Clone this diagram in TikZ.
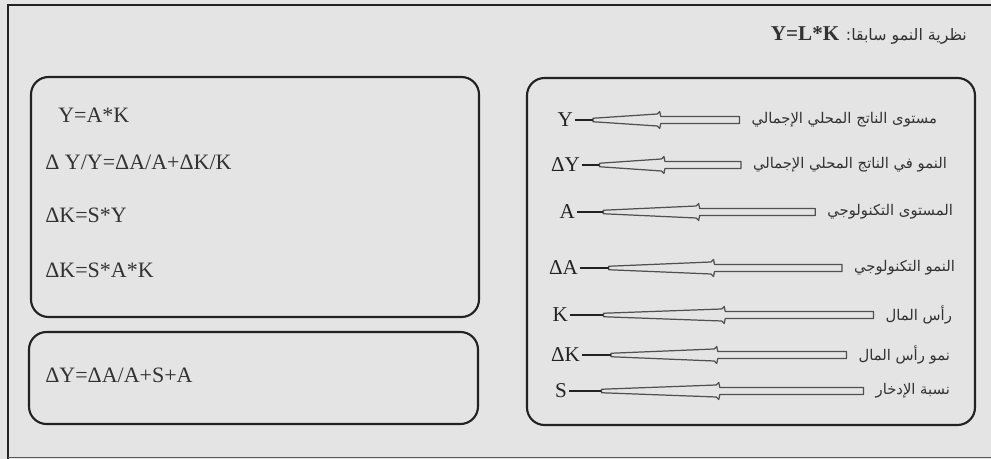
\documentclass[tikz,border=0pt]{standalone}
\usepackage{fontspec}
\setmainfont{Liberation Serif}
\newfontfamily\arabicfont[Script=Arabic]{DejaVu Sans}
\TeXXeTstate=1
\usetikzlibrary{calc,positioning}
\definecolor{paper}{RGB}{228,228,228}
\definecolor{frameink}{RGB}{34,34,34}
\definecolor{textgray}{RGB}{50,50,50}
\definecolor{shaftgray}{RGB}{80,80,80}

% tapered pointer from a description (#1) back to its symbol (#2)
\newcommand{\taperarrow}[2]{%
  \coordinate (e) at ($(#1.west)+(-0.2,0)$);
  \coordinate (t) at (#2.east);
  \coordinate (s) at ($(t)!0.5!(e)$);
  \coordinate (n) at ($(t)!0.11!(e)$);
  \draw[shaftgray, line width=0.7pt, line join=round]
    ($(e)+(0,0.07)$) -- ($(s)+(0.07,0.07)$) -- ($(s)+(0.05,0.17)$) -- ($(s)+(0,0.12)$)
    -- ($(n)+(0,0.035)$) -- ($(n)+(0,-0.035)$) -- ($(s)+(0,-0.12)$) -- ($(s)+(0.05,-0.17)$)
    -- ($(s)+(0.07,-0.07)$) -- ($(e)+(0,-0.07)$) -- cycle;
  \draw[frameink, line width=1.1pt] (t) -- (n);
}

\begin{document}
\begin{tikzpicture}[
  panel/.style={draw=frameink, line width=1.2pt, rounded corners=0.35cm},
  formula/.style={anchor=west, inner sep=0pt, text=textgray, font=\fontsize{12.5}{14}\selectfont},
  sym/.style={anchor=east, inner sep=1pt, text=frameink, font=\fontsize{12}{14}\selectfont},
  desc/.style={anchor=east, inner sep=1pt, text=textgray, font=\arabicfont\fontsize{8.4}{10}\selectfont}]

  \useasboundingbox (0,0) rectangle (19.82,9.18);
  \clip (0,0) rectangle (19.82,9.18);
  \fill[paper] (0,0) rectangle (19.82,9.18);

  \draw[frameink, line width=1.4pt] (20.2,9.08) -- (0.16,9.08) -- (0.16,-0.2);
  \draw[black!65, line width=0.5pt] (0.16,0.04) -- (20.2,0.04);

  \node[text=textgray, anchor=east, inner sep=1pt, font=\arabicfont\fontsize{9}{11}\selectfont] (title) at (19.38,8.48)
    {\beginR نظرية النمو سابقا: \beginL{\rmfamily\bfseries\fontsize{12}{14}\selectfont Y=L*K}\endL\endR};

  \node[panel, minimum width=8.96cm, minimum height=4.8cm] (model) at (5.10,5.24) {};
  \node[panel, minimum width=8.98cm, minimum height=1.84cm] (result) at (5.07,1.62) {};
  \node[panel, minimum width=8.96cm, minimum height=6.94cm] (legend) at (15.02,4.15) {};

  \node[formula] (f1) at (1.16,6.88) {Y=A*K};
  \node[formula] (f2) at (0.90,5.94) {Δ Y/Y=ΔA/A+ΔK/K};
  \node[formula] (f3) at (0.90,4.88) {ΔK=S*Y};
  \node[formula] (f4) at (0.90,3.78) {ΔK=S*A*K};
  \node[formula] (f5) at (0.90,1.68) {ΔY=ΔA/A+S+A};

  \node[sym] (Y)  at (11.50,6.78) {Y};
  \node[sym] (dY) at (11.64,5.88) {ΔY};
  \node[sym] (A)  at (11.54,4.94) {A};
  \node[sym] (dA) at (11.60,3.82) {ΔA};
  \node[sym] (K)  at (11.40,2.88) {K};
  \node[sym] (dK) at (11.64,2.08) {ΔK};
  \node[sym] (S)  at (11.38,1.36) {S};

  \node[desc] (lY)  at (18.78,6.78) {\beginR مستوى الناتج المحلي الإجمالي\endR};
  \node[desc] (ldY) at (18.98,5.88) {\beginR النمو في الناتج المحلي الإجمالي\endR};
  \node[desc] (lA)  at (19.10,4.94) {\beginR المستوى التكنولوجي\endR};
  \node[desc] (ldA) at (19.14,3.82) {\beginR النمو التكنولوجي\endR};
  \node[desc] (lK)  at (19.08,2.88) {\beginR رأس المال\endR};
  \node[desc] (ldK) at (19.04,2.08) {\beginR نمو رأس المال\endR};
  \node[desc] (lS)  at (19.04,1.36) {\beginR نسبة الإدخار\endR};

  \taperarrow{lY}{Y}
  \taperarrow{ldY}{dY}
  \taperarrow{lA}{A}
  \taperarrow{ldA}{dA}
  \taperarrow{lK}{K}
  \taperarrow{ldK}{dK}
  \taperarrow{lS}{S}
\end{tikzpicture}
\end{document}
